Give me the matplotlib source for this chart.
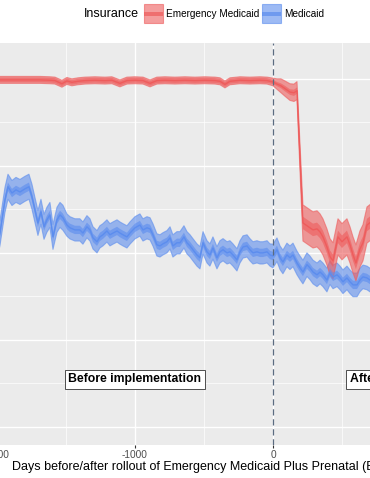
import numpy as np
import matplotlib
matplotlib.use("Agg")
import matplotlib.pyplot as plt
from matplotlib.patches import Rectangle

plt.rcParams['font.family'] = ['Liberation Sans', 'DejaVu Sans']

# -------------------------------
# DATA
# -------------------------------

# Medicaid: days relative to rollout, share
blue_days = [-2014, -1978, -1942, -1920, -1891, -1862, -1833, -1797, -1768, -1746,
             -1725, -1703, -1681, -1659, -1638, -1616, -1594, -1565, -1543, -1522,
             -1493, -1471, -1435, -1399, -1377, -1348, -1326, -1304, -1275, -1254,
             -1232, -1203, -1181, -1159, -1130, -1109, -1087, -1058, -1036, -1000,
             -964, -942, -913, -891, -870, -841, -819, -797, -768, -746,
             -725, -696, -674, -645, -623, -601, -580, -551, -529, -507,
             -478, -457, -435, -406, -384, -362, -333, -312, -290, -261,
             -239, -217, -188, -167, -145, -116, -94, -72, -43, -22,
             0, 29, 51, 72, 101, 123, 145, 174, 196, 217,
             246, 268, 290, 319, 341, 362, 391, 413, 435, 464,
             486, 507, 536, 558, 580, 609, 630, 652, 681, 703, 732, 760]
blue_share = [0.494, 0.557, 0.652, 0.690, 0.672, 0.681, 0.675, 0.684, 0.690, 0.661,
              0.624, 0.586, 0.618, 0.575, 0.595, 0.609, 0.546, 0.595, 0.609, 0.601,
              0.580, 0.572, 0.566, 0.566, 0.557, 0.575, 0.566, 0.543, 0.532, 0.546,
              0.552, 0.563, 0.552, 0.557, 0.563, 0.557, 0.552, 0.546, 0.557, 0.572,
              0.580, 0.566, 0.572, 0.569, 0.552, 0.523, 0.520, 0.526, 0.532, 0.543,
              0.520, 0.529, 0.529, 0.546, 0.529, 0.520, 0.509, 0.494, 0.486, 0.529,
              0.503, 0.494, 0.514, 0.486, 0.503, 0.509, 0.500, 0.503, 0.494, 0.480,
              0.503, 0.517, 0.520, 0.509, 0.500, 0.503, 0.500, 0.500, 0.503, 0.494,
              0.491, 0.509, 0.486, 0.474, 0.494, 0.486, 0.494, 0.471, 0.457, 0.445,
              0.466, 0.457, 0.445, 0.437, 0.445, 0.437, 0.422, 0.443, 0.431, 0.437,
              0.428, 0.417, 0.428, 0.417, 0.408, 0.408, 0.422, 0.431, 0.428, 0.422, 0.420, 0.415]
blue_ci_outer = [0.036] * 20 + [0.032] * 60 + [0.034] * 32
blue_ci_inner = [0.012] * 112

# Emergency Medicaid
red_days = [-2014, -1978, -1906, -1833, -1761, -1688, -1616, -1580, -1529, -1493,
            -1457, -1413, -1362, -1290, -1217, -1167, -1109, -1058, -1000, -942,
            -891, -841, -783, -710, -638, -565, -493, -420, -384, -348,
            -312, -239, -167, -94, -43, 0, 29, 58, 87, 123,
            152, 174, 217, 246, 290, 319, 341, 362, 391, 413,
            435, 471, 500, 536, 558, 580, 601, 630, 652, 681, 710, 746]
red_share = [0.997, 0.997, 0.997, 0.997, 0.997, 0.997, 0.996, 0.995, 0.986, 0.994,
             0.990, 0.993, 0.995, 0.996, 0.995, 0.996, 0.987, 0.995, 0.996, 0.995,
             0.987, 0.995, 0.996, 0.995, 0.996, 0.995, 0.996, 0.995, 0.993, 0.984,
             0.993, 0.996, 0.995, 0.996, 0.995, 0.991, 0.985, 0.980, 0.972, 0.962,
             0.960, 0.966, 0.586, 0.578, 0.566, 0.569, 0.560, 0.546, 0.517, 0.489,
             0.477, 0.546, 0.532, 0.546, 0.523, 0.494, 0.471, 0.511, 0.529, 0.580, 0.589, 0.566]
red_ci_outer = [0.010] * 35 + [0.011, 0.015, 0.020, 0.022, 0.024, 0.025, 0.026] + [0.052] * 20
red_ci_inner = [0.007] * 35 + [0.006, 0.006, 0.007, 0.008, 0.008, 0.009, 0.009] + [0.018] * 20

x_ticks = [-2000, -1000, 0, 1000]
x_minor = [-1500, -500, 500]
y_ticks = [0, 0.25, 0.5, 0.75, 1.0]
y_minor = [0.125, 0.375, 0.625, 0.875]

RED = "#EE5C5C"
BLUE = "#5C8DEE"

# -------------------------------
# FIGURE (panel is cropped on both sides)
# -------------------------------

W, H = 370, 478
fig = plt.figure(figsize=(W / 100, H / 100), dpi=100)

def fx(px):
    return px / W

def fy(py):
    return 1 - py / H

ax = fig.add_axes([fx(-74), fy(445), (444 + 74) / W, (445 - 43) / H])
ax.set_facecolor("#EBEBEB")
ax.set_xlim(-2514, 1239)
ax.set_ylim(-0.052, 1.103)
for s in ax.spines.values():
    s.set_visible(False)

ax.set_xticks(x_ticks)
ax.set_xticklabels([str(t) for t in x_ticks])
ax.set_xticks(x_minor, minor=True)
ax.set_yticks(y_ticks)
ax.set_yticks(y_minor, minor=True)
ax.tick_params(axis="x", which="major", length=2.5, width=0.8, color="#333333",
               labelsize=7.3, labelcolor="#4D4D4D", pad=1)
ax.tick_params(which="minor", length=0)
ax.tick_params(axis="y", labelleft=False, length=0)
ax.grid(which="major", color="white", lw=1.0)
ax.grid(which="minor", color="white", lw=0.5)
ax.set_axisbelow(True)


def ribbon(days, share, outer, inner, col):
    d = np.array(days)
    v = np.array(share)
    o = np.array(outer)
    i = np.array(inner)
    ax.fill_between(d, v - o, v + o, facecolor=col, alpha=0.6,
                    edgecolor=col, lw=0.8, zorder=2)
    ax.fill_between(d, v - i, v + i, facecolor=col, alpha=0.6, lw=0, zorder=3)
    ax.plot(d, v, color=col, lw=1.0, zorder=4)


ribbon(blue_days, blue_share, blue_ci_outer, blue_ci_inner, BLUE)
ribbon(red_days, red_share, red_ci_outer, red_ci_inner, RED)

ax.axvline(0, color="#5B6B80", lw=0.9, ls=(0, (5, 3)), zorder=5)

box = dict(boxstyle="square,pad=0.3", fc="white", ec="#333333", lw=0.6)
ax.text(-1000, 0.1365, "Before implementation", ha="center", va="center",
        fontsize=8.8, fontweight="bold", bbox=box, zorder=6)
ax.text(1000, 0.1365, "After implementation", ha="center", va="center",
        fontsize=8.8, fontweight="bold", bbox=box, zorder=6)

fig.text(fx(12), fy(467), "Days before/after rollout of Emergency Medicaid Plus Prenatal (EMPP)",
         ha="left", va="center", fontsize=9)

# -------------------------------
# LEGEND (top)
# -------------------------------

fig.text(fx(84), fy(14), "Insurance", ha="left", va="center", fontsize=9)
for x0, col, lab in [(144, RED, "Emergency Medicaid"), (262, BLUE, "Medicaid")]:
    fig.patches.append(Rectangle((fx(x0), fy(23)), 19 / W, 19 / H, transform=fig.transFigure,
                                 facecolor=col, alpha=0.6, edgecolor=col, lw=0.8))
    fig.patches.append(Rectangle((fx(x0), fy(16)), 19 / W, 4 / H, transform=fig.transFigure,
                                 facecolor=col, alpha=0.7, lw=0))
    fig.text(fx(x0 + 22), fy(14), lab, ha="left", va="center", fontsize=7.2)

fig.savefig("out.png", dpi=100)
